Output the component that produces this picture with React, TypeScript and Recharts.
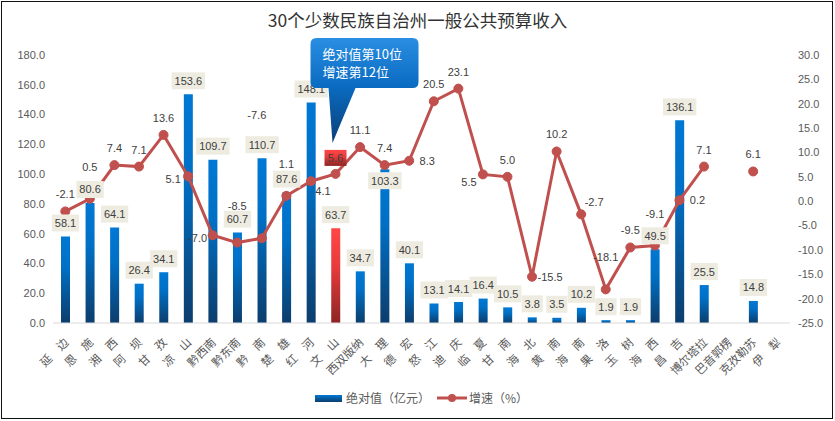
import React from 'react';
import { ComposedChart, Bar, Line, XAxis, YAxis, Cell, LabelList } from 'recharts';

// 30 个少数民族自治州
const prefectures = [
  '延边', '恩施', '湘西', '阿坝', '甘孜', '凉山', '黔西南', '黔东南', '黔南', '楚雄',
  '红河', '文山', '西双版纳', '大理', '德宏', '怒江', '迪庆', '临夏', '甘南', '海北',
  '黄南', '海南', '果洛', '玉树', '海西', '昌吉', '博尔塔拉', '巴音郭楞', '克孜勒苏', '伊犁',
];
// 绝对值（亿元）
const revenue = [
  58.1, 80.6, 64.1, 26.4, 34.1, 153.6, 109.7, 60.7, 110.7, 87.6,
  148.1, 63.7, 34.7, 103.3, 40.1, 13.1, 14.1, 16.4, 10.5, 3.8,
  3.5, 10.2, 1.9, 1.9, 49.5, 136.1, 25.5, null, 14.8, null,
];
// 增速（%）
const growth = [
  -2.1, 0.5, 7.4, 7.1, 13.6, 5.1, -7.0, -8.5, -7.6, 1.1,
  4.1, 5.6, 11.1, 7.4, 8.3, 20.5, 23.1, 5.5, 5.0, -15.5,
  10.2, -2.7, -18.1, -9.5, -9.1, 0.2, 7.1, null, 6.1, null,
];
const leftTicks = [0, 20, 40, 60, 80, 100, 120, 140, 160, 180];
const rightTicks = [-25, -20, -15, -10, -5, 0, 5, 10, 15, 20, 25, 30];

const title = '30个少数民族自治州一般公共预算收入';
const highlight = '文山';
const calloutLines = ['绝对值第10位', '增速第12位'];
const revenueName = '绝对值（亿元）';
const growthName = '增速（%）';

// bar labels Excel dropped just inside the bar top
const revenueLabelInside = ['大理'];

// where each growth label sits relative to its point (Excel placed them by hand)
const growthLabelSpot = [
  'top', 'over', 'top', 'top', 'top', 'left', 'left', 'over2', 'high', 'over',
  'rightDown', 'box', 'top', 'top', 'right', 'top', 'top', 'leftDown', 'top', 'right',
  'top', 'rightUp', 'over', 'top', 'over', 'right', 'top', 'top', 'top', 'top',
];
const spotOffset: Record<string, [number, number]> = {
  top: [0, -17],
  over: [0, -32],
  over2: [0, -37],
  high: [-5, -123],
  left: [-15, 3],
  right: [18, 0],
  rightDown: [12, 10],
  leftDown: [-14, 8],
  rightUp: [13, -12],
  box: [0, -16],
};

const data = prefectures.map((name, i) => ({ name, revenue: revenue[i], growth: growth[i] }));

const numFont = '"Liberation Sans", Arial, sans-serif';
const cjkFont = '"Noto Sans CJK SC", "Noto Sans", sans-serif';
const textColor = '#404040';
const lineColor = '#c0504d';

const CategoryTick = (props: any) => {
  const { x, y, payload } = props;
  const name: string = payload.value;
  const text = name.length === 2 ? name[0] + '\u3000' + name[1] : name;
  const ax = x + 4;
  const ay = y + 12;
  return (
    <text x={ax} y={ay} transform={`rotate(-45, ${ax}, ${ay})`} textAnchor="end"
      fontSize={11.5} fontFamily={cjkFont} fill="#595959">
      {text}
    </text>
  );
};

const RevenueLabel = (props: any) => {
  const { x, y, width, value, index } = props;
  if (value == null) return null;
  const str = Number(value).toFixed(1);
  const w = (str.length - 1) * 6.1 + 3 + 6;
  const cx = x + width / 2;
  const inside = revenueLabelInside.includes(prefectures[index]);
  const top = inside ? y + 3 : y - 22;
  return (
    <g>
      <rect x={cx - w / 2} y={top} width={w} height={17} fill="#eeece1" />
      <text x={cx} y={top + 8.5} textAnchor="middle" dominantBaseline="central"
        fontSize={11} fontFamily={numFont} fill={textColor}>{str}</text>
    </g>
  );
};

const GrowthLabel = (props: any) => {
  const { x, y, value, index } = props;
  if (value == null || y == null) return null;
  const str = Number(value).toFixed(1);
  const spot = growthLabelSpot[index] || 'top';
  const [dx, dy] = spotOffset[spot];
  if (spot === 'box') {
    const bw = 22;
    return (
      <g>
        <path
          d={`M ${x - 25 + 6} ${y - 136} H ${x + 83 - 6} Q ${x + 83} ${y - 136} ${x + 83} ${y - 130} V ${y - 92} Q ${x + 83} ${y - 86} ${x + 83 - 6} ${y - 86} H ${x + 20} L ${x - 3} ${y - 31} L ${x - 7} ${y - 86} H ${x - 25 + 6} Q ${x - 25} ${y - 86} ${x - 25} ${y - 92} V ${y - 130} Q ${x - 25} ${y - 136} ${x - 25 + 6} ${y - 136} Z`}
          fill="url(#calloutGrad)"
        />
        {calloutLines.map((t, k) => (
          <text key={t} x={x - 13} y={y - 120 + k * 18} dominantBaseline="central"
            fontSize={13} fontFamily={cjkFont} fill="#ffffff">{t}</text>
        ))}
        <rect x={x + dx - bw / 2} y={y + dy - 8} width={bw} height={16} fill="url(#redGrad)" />
        <text x={x + dx} y={y + dy} textAnchor="middle" dominantBaseline="central"
          fontSize={11} fontFamily={numFont} fill={textColor}>{str}</text>
      </g>
    );
  }
  return (
    <text x={x + dx} y={y + dy} textAnchor="middle" dominantBaseline="central"
      fontSize={11} fontFamily={numFont} fill={textColor}>{str}</text>
  );
};

export default function App() {
  return (
    <div style={{ position: 'fixed', left: 0, top: 0, width: 835, height: 421, background: '#fff' }}>
      <div style={{
        position: 'absolute', left: 1, top: 1, width: 832, height: 418,
        border: '1.5px solid #111', boxSizing: 'border-box',
      }} />
      <div style={{
        position: 'absolute', left: 0, top: 8, width: 835, textAlign: 'center',
        fontFamily: cjkFont, fontSize: 17.5, color: '#333', lineHeight: '24px',
      }}>{title}</div>
      <ComposedChart width={835} height={421} data={data}
        margin={{ top: 55, right: 5, bottom: 38, left: 8 }}>
        <defs>
          <linearGradient id="blueGrad" x1="0" y1="0" x2="0" y2="1">
            <stop offset="0%" stopColor="#0078d4" />
            <stop offset="35%" stopColor="#0070c6" />
            <stop offset="100%" stopColor="#0c3d6c" />
          </linearGradient>
          <linearGradient id="redGrad" x1="0" y1="0" x2="0" y2="1">
            <stop offset="0%" stopColor="#ff4646" />
            <stop offset="40%" stopColor="#e83c3c" />
            <stop offset="100%" stopColor="#8e2424" />
          </linearGradient>
          <linearGradient id="calloutGrad" x1="0" y1="0" x2="0" y2="1">
            <stop offset="0%" stopColor="#2a8ee2" />
            <stop offset="45%" stopColor="#0a6cc2" />
            <stop offset="100%" stopColor="#0b3f78" />
          </linearGradient>
        </defs>
        <XAxis dataKey="name" interval={0} height={60} tickLine={false}
          axisLine={{ stroke: '#d9d9d9' }} tick={<CategoryTick />} />
        <YAxis yAxisId="left" width={45} domain={[0, 180]} ticks={leftTicks}
          axisLine={false} tickLine={false} tickFormatter={(v: number) => v.toFixed(1)}
          tick={{ fontSize: 11, fontFamily: numFont, fill: '#595959' }} />
        <YAxis yAxisId="right" orientation="right" width={40} domain={[-25, 30]} ticks={rightTicks}
          axisLine={false} tickLine={false} tickFormatter={(v: number) => v.toFixed(1)}
          tick={{ fontSize: 11, fontFamily: numFont, fill: '#595959' }} />
        <Bar yAxisId="left" dataKey="revenue" name={revenueName} barSize={9}
          fill="url(#blueGrad)" isAnimationActive={false}>
          {data.map((d) => (
            <Cell key={d.name} fill={d.name === highlight ? 'url(#redGrad)' : 'url(#blueGrad)'} />
          ))}
          <LabelList dataKey="revenue" content={<RevenueLabel />} />
        </Bar>
        <Line yAxisId="right" dataKey="growth" name={growthName} stroke={lineColor} strokeWidth={3}
          dot={{ r: 4.5, fill: lineColor, stroke: lineColor, strokeWidth: 1 }} activeDot={false}
          connectNulls={false} isAnimationActive={false}>
          <LabelList dataKey="growth" content={<GrowthLabel />} />
        </Line>
      </ComposedChart>
      <div style={{
        position: 'absolute', top: 389, left: 315, display: 'flex', alignItems: 'center',
        fontFamily: cjkFont, fontSize: 12, color: '#595959', lineHeight: '18px',
      }}>
        <span style={{
          display: 'inline-block', width: 27, height: 7, marginRight: 4,
          background: 'linear-gradient(#0078d4, #0c3d6c)',
        }} />
        <span>{revenueName}</span>
        <svg width={32} height={12} style={{ marginLeft: 6, marginRight: 1 }}>
          <line x1={1} y1={6} x2={31} y2={6} stroke={lineColor} strokeWidth={3} />
          <circle cx={16} cy={6} r={4} fill={lineColor} />
        </svg>
        <span>{growthName}</span>
      </div>
    </div>
  );
}
